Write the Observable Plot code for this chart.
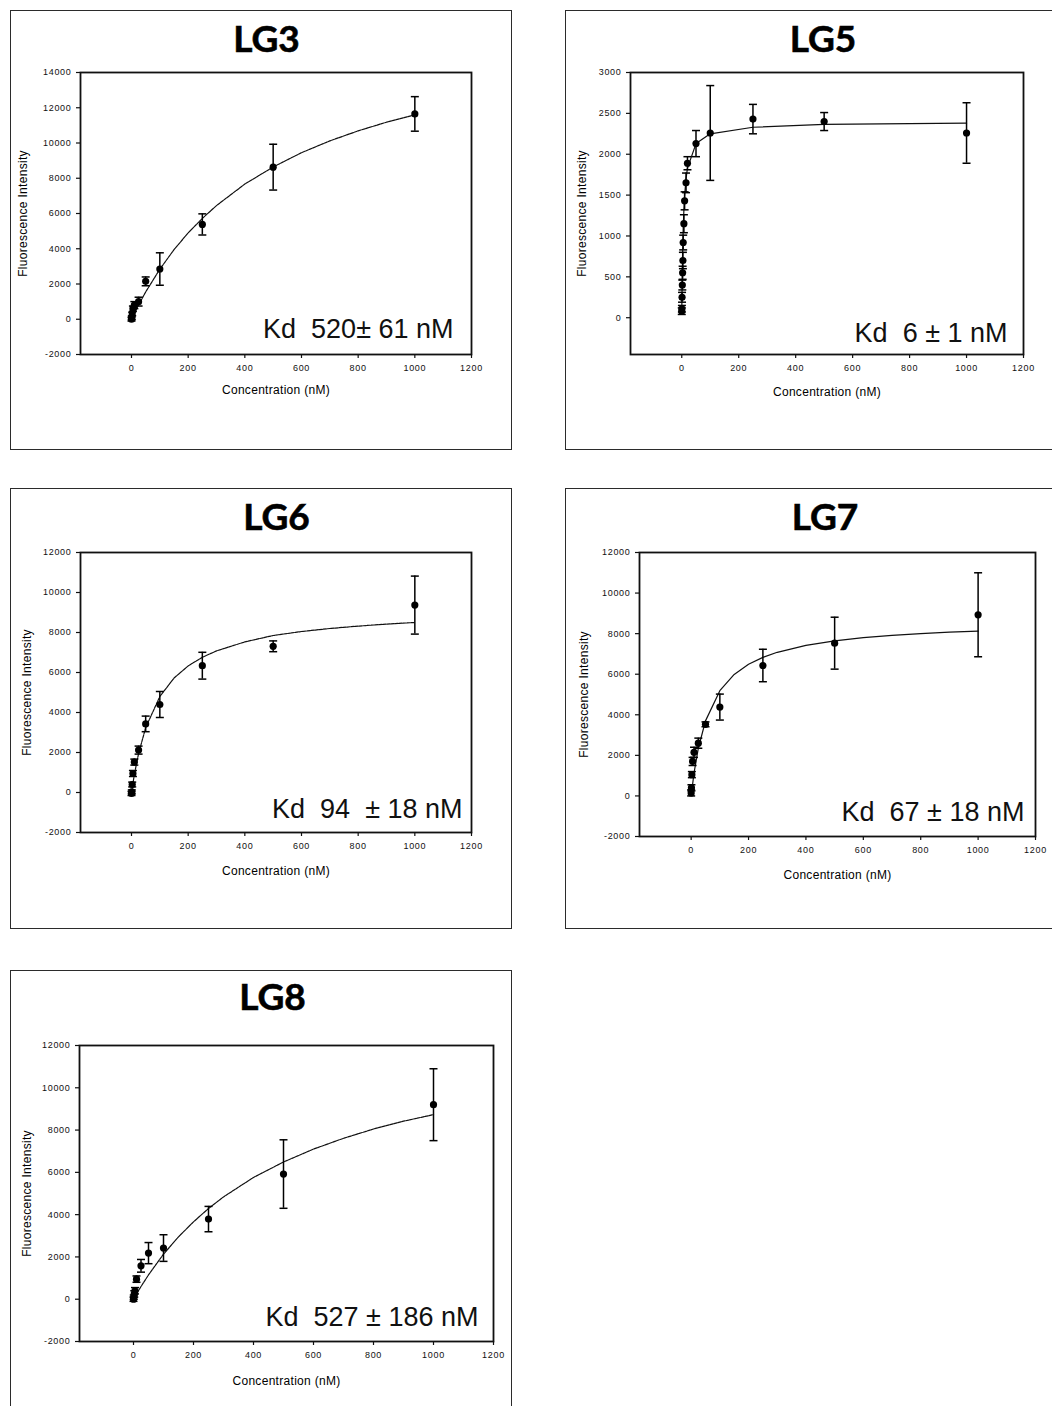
<!DOCTYPE html>
<html><head><meta charset="utf-8">
<script src="https://cdn.jsdelivr.net/npm/d3@7"></script>
<script src="https://cdn.jsdelivr.net/npm/@observablehq/plot@0.6"></script>
<style>
html,body{margin:0;padding:0;background:#fff;}
body{width:1052px;height:1406px;position:relative;overflow:hidden;font-family:"Liberation Sans",Arial,sans-serif;}
.box{position:absolute;border:1.6px solid #2b2b2b;box-sizing:border-box;}
.title{position:absolute;font-family:Lato,"Open Sans",sans-serif;font-weight:700;font-size:37px;line-height:1;transform:translateX(-50%);color:#000;white-space:nowrap;-webkit-text-stroke:0.6px #000;}
.chart{position:absolute;}
.chart g[aria-label$="tick label"] text{letter-spacing:0.7px;}
.chart .axlab{letter-spacing:0.3px;}
</style></head><body>
<script>
// ---------- data ----------
const titles = ["LG3", "LG5", "LG6", "LG7", "LG8"];
const kdLabels = ["Kd\u00a0 520± 61 nM", "Kd\u00a0 6 ± 1 nM", "Kd\u00a0 94 \u00a0± 18 nM", "Kd\u00a0 67 ± 18 nM", "Kd\u00a0 527 ± 186 nM"];
const xLabel = "Concentration (nM)";
const yLabel = "Fluorescence Intensity";
const xTicks = [0, 200, 400, 600, 800, 1000, 1200];
const yTicks3 = [-2000, 0, 2000, 4000, 6000, 8000, 10000, 12000, 14000];
const yTicks5 = [0, 500, 1000, 1500, 2000, 2500, 3000];
const yTicks12 = [-2000, 0, 2000, 4000, 6000, 8000, 10000, 12000];

const conc = [0, 1, 2.5, 5, 10, 25, 50, 100, 250, 500, 1000];
const fitX = [0, 10, 25, 50, 100, 150, 200, 250, 300, 400, 500, 600, 700, 800, 900, 1000];

const lg3Mean = [0, 80, 300, 600, 800, 1000, 2150, 2850, 5380, 8630, 11650];
const lg3Err  = [100, 100, 100, 150, 200, 250, 250, 920, 600, 1300, 980];
const lg3Fit  = [0, 330, 810, 1550, 2840, 3950, 4900, 5720, 6450, 7670, 8640, 9450, 10120, 10690, 11180, 11600];

const lg5Conc = [0, 0.5, 1, 2, 3, 4, 5, 7.5, 10, 15, 20, 50, 100, 250, 500, 1000];
const lg5Mean = [80, 110, 250, 400, 550, 700, 920, 1150, 1430, 1650, 1890, 2130, 2260, 2430, 2400, 2260];
const lg5Err  = [40, 40, 60, 60, 80, 100, 90, 110, 110, 120, 80, 160, 580, 180, 110, 370];
const lg5FitX = [0, 1, 2, 3, 5, 7.5, 10, 15, 20, 50, 100, 250, 500, 1000];
const lg5Fit  = [60, 340, 600, 790, 1080, 1320, 1490, 1700, 1830, 2130, 2250, 2330, 2365, 2380];

const lg6Mean = [-50, 30, 400, 950, 1520, 2120, 3430, 4400, 6340, 7310, 9370];
const lg6Err  = [100, 100, 120, 150, 150, 200, 390, 650, 670, 270, 1450];
const lg6Fit  = [0, 900, 1950, 3240, 4800, 5720, 6330, 6760, 7080, 7530, 7850, 8050, 8200, 8320, 8420, 8500];

const lg7Mean = [150, 400, 1050, 1700, 2150, 2600, 3530, 4380, 6430, 7530, 8930];
const lg7Err  = [150, 150, 150, 200, 250, 250, 120, 640, 800, 1280, 2070];
const lg7Fit  = [0, 1130, 2350, 3700, 5190, 5990, 6490, 6830, 7080, 7420, 7640, 7800, 7910, 8000, 8070, 8120];

const lg8Mean = [0, 100, 250, 400, 950, 1580, 2180, 2420, 3790, 5920, 9200];
const lg8Err  = [100, 100, 150, 150, 150, 300, 500, 630, 600, 1620, 1700];
const lg8Fit  = [0, 250, 600, 1150, 2130, 2950, 3660, 4290, 4840, 5760, 6490, 7100, 7610, 8050, 8420, 8730];

// ---------- layout ----------
const layout = [
  {box:[10,10,502,440], tx:266.5, ty:19, svg:[12,62], m:[10,20,50,68], frame:[80,471,72,354], yDom:[-2000,14000], yt:yTicks3, kdx:-18, kdy:-17, xl:39, yl:-57, dash:"3,1"},
  {box:[565,10,520,440], tx:823, ty:19, svg:[567,62], m:[10,20,50,63], frame:[630,1023,72,354], yDom:[-450,3000], yt:yTicks5, kdx:-16, kdy:-13, xl:41, yl:-48, dash:null},
  {box:[10,488,502,441], tx:276.5, ty:497, svg:[12,542], m:[10,20,50,68], frame:[80,471,552,832], yDom:[-2000,12000], yt:yTicks12, kdx:-9, kdy:-14.8, xl:42, yl:-53, dash:"3,1"},
  {box:[565,488,520,441], tx:825, ty:497, svg:[567,542], m:[10,15,50,72], frame:[639,1035,552,836], yDom:[-2000,12000], yt:yTicks12, kdx:-11, kdy:-15.4, xl:42, yl:-55, dash:null},
  {box:[10,970,502,460], tx:272.5, ty:977, svg:[12,1035], m:[10,15,50,67], frame:[79,493,1045,1341], yDom:[-2000,12000], yt:yTicks12, kdx:-15, kdy:-15.1, xl:43, yl:-52, dash:"3,1"}
];

const series = [
  {c: conc, mean: lg3Mean, err: lg3Err, fx: fitX, fy: lg3Fit},
  {c: lg5Conc, mean: lg5Mean, err: lg5Err, fx: lg5FitX, fy: lg5Fit},
  {c: conc, mean: lg6Mean, err: lg6Err, fx: fitX, fy: lg6Fit},
  {c: conc, mean: lg7Mean, err: lg7Err, fx: fitX, fy: lg7Fit},
  {c: conc, mean: lg8Mean, err: lg8Err, fx: fitX, fy: lg8Fit}
];

const capSymbol = {draw(ctx, size) { const h = Math.sqrt(size / Math.PI); ctx.moveTo(-h, 0); ctx.lineTo(h, 0); }};

layout.forEach((L, i) => {
  const s = series[i];
  const box = document.createElement("div");
  box.className = "box";
  Object.assign(box.style, {left: L.box[0] + "px", top: L.box[1] + "px", width: L.box[2] + "px", height: L.box[3] + "px"});
  document.body.appendChild(box);

  const t = document.createElement("div");
  t.className = "title";
  t.textContent = titles[i];
  Object.assign(t.style, {left: L.tx + "px", top: L.ty + "px"});
  document.body.appendChild(t);

  const pts = s.c.map((c, k) => ({c, m: s.mean[k], e: s.err[k]}));
  const fit = s.fx.map((x, k) => ({x, y: s.fy[k]}));
  const [mt, mr, mb, ml] = L.m;
  const width = (L.frame[1] - L.svg[0]) + mr;
  const height = (L.frame[3] - L.svg[1]) + mb;

  const chart = Plot.plot({
    width, height, marginTop: mt, marginRight: mr, marginBottom: mb, marginLeft: ml,
    x: {domain: [-180, 1200]},
    y: {domain: L.yDom},
    style: {fontFamily: '"Liberation Sans", Arial, sans-serif', fontSize: "9px", color: "#111", background: "transparent", overflow: "visible"},
    marks: [
      Plot.axisX(xTicks, {tickSize: 4, tickPadding: 6, tickFormat: d => String(d), label: null, strokeWidth: 1.2}),
      Plot.axisY(L.yt, {tickSize: 4, tickPadding: 5, tickFormat: d => String(d), label: null, strokeWidth: 1.2}),
      Plot.line(fit, {x: "x", y: "y", stroke: "#111", strokeWidth: 1.2, strokeDasharray: L.dash || undefined, curve: "linear"}),
      Plot.ruleX(pts, {x: "c", y1: d => d.m - d.e, y2: d => d.m + d.e, stroke: "#000", strokeWidth: 1.5}),
      Plot.dot(pts, {x: "c", y: d => d.m + d.e, symbol: capSymbol, r: 4, fill: "none", stroke: "#000", strokeWidth: 1.5}),
      Plot.dot(pts, {x: "c", y: d => d.m - d.e, symbol: capSymbol, r: 4, fill: "none", stroke: "#000", strokeWidth: 1.5}),
      Plot.dot(pts, {x: "c", y: "m", r: 3.6, fill: "#000", stroke: "none"}),
      Plot.frame({stroke: "#111", strokeWidth: 1.8}),
      Plot.text([kdLabels[i]], {frameAnchor: "bottom-right", textAnchor: "end", dx: L.kdx, dy: L.kdy, fontSize: 27, fill: "#111"}),
      Plot.text([xLabel], {frameAnchor: "bottom", textAnchor: "middle", dy: L.xl, fontSize: 12, fill: "#000", className: "axlab"}),
      Plot.text([yLabel], {frameAnchor: "left", textAnchor: "middle", dx: L.yl, rotate: -90, fontSize: 12, fill: "#000", className: "axlab"})
    ]
  });
  chart.classList.add("chart");
  chart.style.left = L.svg[0] + "px";
  chart.style.top = L.svg[1] + "px";
  document.body.appendChild(chart);
});
</script>
</body></html>
